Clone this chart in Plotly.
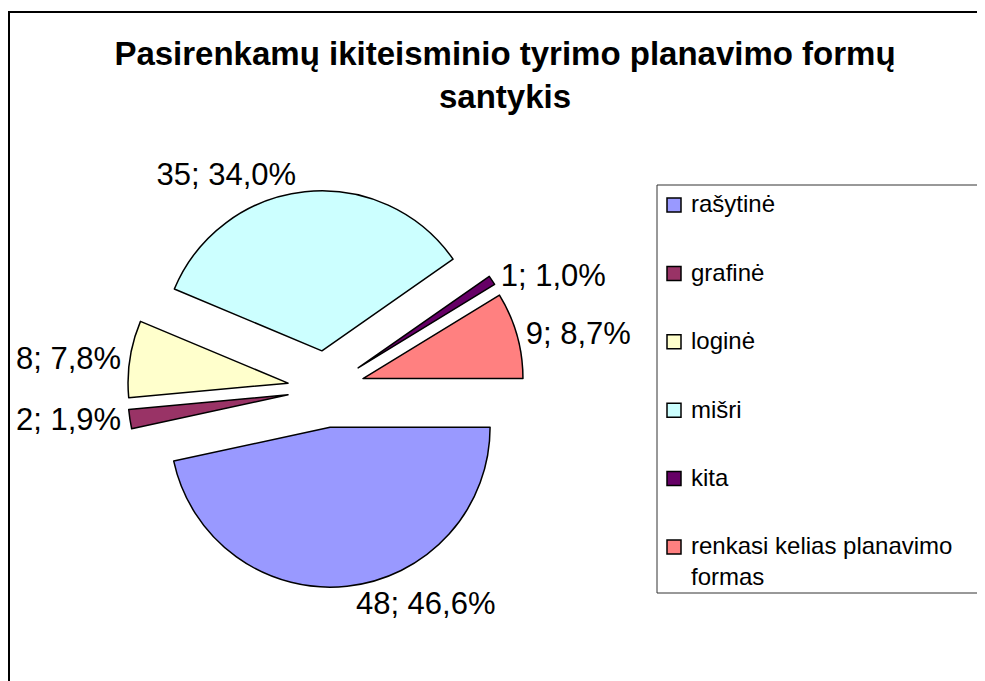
import plotly.graph_objects as go

# ---- data ----
labels = ["rašytinė", "grafinė", "loginė", "mišri", "kita", "renkasi kelias planavimo formas"]
values = [48, 2, 8, 35, 1, 9]
colors = ["#9999FF", "#993366", "#FFFFCC", "#CCFFFF", "#660066", "#FF8080"]
legend_text = ["rašytinė", "grafinė", "loginė", "mišri", "kita", "renkasi kelias planavimo<br>formas"]
title_text = "Pasirenkamų ikiteisminio tyrimo planavimo formų<br>santykis"

total = sum(values)
slice_text = [f"{v}; {100.0 * v / total:.1f}%".replace(".", ",") for v in values]

OFF = 8  # page body margin offset of the plot div
W, H = 985 - OFF, 681 - OFF
FONT = "Arial, Liberation Sans, sans-serif"


def px(x):
    return (x - OFF) / W


def py(y):
    return 1 - (y - OFF) / H


# pie geometry (screen pixels): centre and outer radius incl. pull
cx, cy, half = 326, 389, 198.4

fig = go.Figure()
fig.add_trace(go.Pie(
    labels=labels,
    values=values,
    text=slice_text,
    textinfo="text",
    textposition="outside",
    sort=False,
    direction="clockwise",
    rotation=90,
    pull=[0.24] * len(values),
    marker=dict(colors=colors, line=dict(color="#000000", width=1.5)),
    outsidetextfont=dict(family=FONT, size=31, color="#000000"),
    domain=dict(x=[px(cx - half), px(cx + half)], y=[py(cy + half), py(cy - half)]),
    showlegend=False,
    hoverinfo="label+value+percent",
))

shapes = []
annotations = []

# outer chart border
shapes.append(dict(type="rect", xref="paper", yref="paper",
                   x0=px(9), y0=py(12), x1=px(1010), y1=py(720),
                   line=dict(color="#000000", width=2), fillcolor="rgba(0,0,0,0)"))

# legend box
shapes.append(dict(type="rect", xref="paper", yref="paper",
                   x0=px(657), y0=py(185), x1=px(1010), y1=py(593),
                   line=dict(color="#333333", width=1), fillcolor="rgba(0,0,0,0)"))

leg_font = 24
for i, (lt, col) in enumerate(zip(legend_text, colors)):
    yc = 205 + i * 68.4
    shapes.append(dict(type="rect", xref="paper", yref="paper",
                       x0=px(667), x1=px(681), y0=py(yc - 7), y1=py(yc + 7),
                       line=dict(color="#000000", width=1.5), fillcolor=col))
    annotations.append(dict(text=lt, xref="paper", yref="paper",
                            x=px(689), y=py(yc - 0.65 * leg_font - 1),
                            xanchor="left", yanchor="top", align="left", showarrow=False,
                            font=dict(family=FONT, size=leg_font, color="#000000")))

fig.update_layout(
    width=W, height=H,
    margin=dict(l=0, r=0, t=0, b=0, autoexpand=False),
    paper_bgcolor="#FFFFFF",
    plot_bgcolor="#FFFFFF",
    title=dict(text=title_text, x=px(505), xanchor="center",
               y=py(65), yanchor="top",
               font=dict(family=FONT, size=33, color="#000000", weight="bold")),
    shapes=shapes,
    annotations=annotations,
)

fig.write_html("out.html")
